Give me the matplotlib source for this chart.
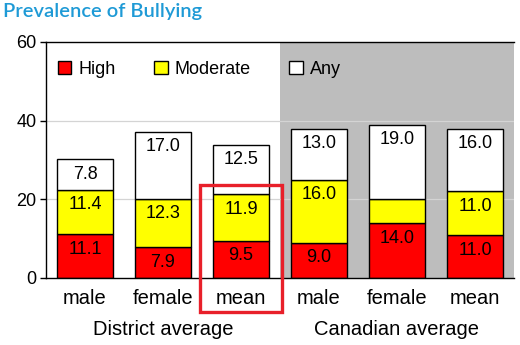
import matplotlib
matplotlib.use("Agg")
import matplotlib.pyplot as plt
from matplotlib.patches import Rectangle
import numpy as np

plt.rcParams['font.family'] = ['Liberation Sans', 'DejaVu Sans']

categories = ["male", "female", "mean", "male", "female", "mean"]
groups = ["District average", "Canadian average"]
high = [11.1, 7.9, 9.5, 9.0, 14.0, 11.0]
moderate = [11.4, 12.3, 11.9, 16.0, 6.0, 11.0]
any_ = [7.8, 17.0, 12.5, 13.0, 19.0, 16.0]
high_labels = ["11.1", "7.9", "9.5", "9.0", "14.0", "11.0"]
moderate_labels = ["11.4", "12.3", "11.9", "16.0", "", "11.0"]
any_labels = ["7.8", "17.0", "12.5", "13.0", "19.0", "16.0"]
yticks = [0, 20, 40, 60]

fig = plt.figure(figsize=(5.2, 3.45), dpi=100)
ax = fig.add_axes([46/520, 1-278/345, 468/520, 236/345])

x = np.arange(len(categories))
high_a = np.array(high)
mod_a = np.array(moderate)
any_a = np.array(any_)

# shaded panel behind the national figures
ax.axvspan(2.5, 5.5, color="#bdbdbd", zorder=0, lw=0)
for yv in yticks[1:-1]:
    ax.axhline(yv, color="#d4d4d4", lw=0.9, zorder=0.5)

w = 0.73
kw = dict(width=w, edgecolor="black", linewidth=1.0, zorder=2)
b1 = ax.bar(x, high_a, color="#ff0000", label="High", **kw)
b2 = ax.bar(x, mod_a, bottom=high_a, color="#ffff00", label="Moderate", **kw)
b3 = ax.bar(x, any_a, bottom=high_a + mod_a, color="white", label="Any", **kw)

tops = [high_a, high_a + mod_a, high_a + mod_a + any_a]
for labels, top in zip([high_labels, moderate_labels, any_labels], tops):
    for xi, t, lab in zip(x, top, labels):
        if lab:
            ax.annotate(lab, (xi, t), xytext=(0, -11), textcoords="offset points",
                        ha="center", va="center", fontsize=13, color="black", zorder=3)

ax.set_xlim(-0.5, 5.5)
ax.set_ylim(0, 60)
ax.set_yticks(yticks)
ax.set_xticks(x)
ax.set_xticklabels(categories)
ax.tick_params(axis="x", length=0, pad=8, labelsize=14.5)
ax.tick_params(axis="y", length=4, width=1, pad=3, labelsize=13)
for s in ["left", "bottom", "top"]:
    ax.spines[s].set_color("black")
    ax.spines[s].set_linewidth(1.0)
ax.spines["right"].set_visible(False)

for gi, g in enumerate(groups):
    ax.text(1 + 3 * gi, -0.22, g, transform=ax.get_xaxis_transform(),
            ha="center", va="center", fontsize=14.5)

ax.legend(handles=[b1, b2, b3], loc="upper left", bbox_to_anchor=(-0.002, 0.975),
          ncol=3, frameon=False, fontsize=13, handlelength=0.75, handleheight=0.75,
          handletextpad=0.4, columnspacing=2.12, borderaxespad=0.3)

# highlight box around the district mean
ax.add_patch(Rectangle((1.47, -8.6), 1.06, 32.3, fill=False, edgecolor="#e8202a",
                       linewidth=2.4, clip_on=False, zorder=5))

fig.text(3/520, 1-12/345, "Prevalence of Bullying", ha="left", va="center",
         fontsize=14.5, fontweight="semibold", color="#1e9ad6",
         family=["Lato", "DejaVu Sans"])

fig.savefig("out.png", dpi=100)
